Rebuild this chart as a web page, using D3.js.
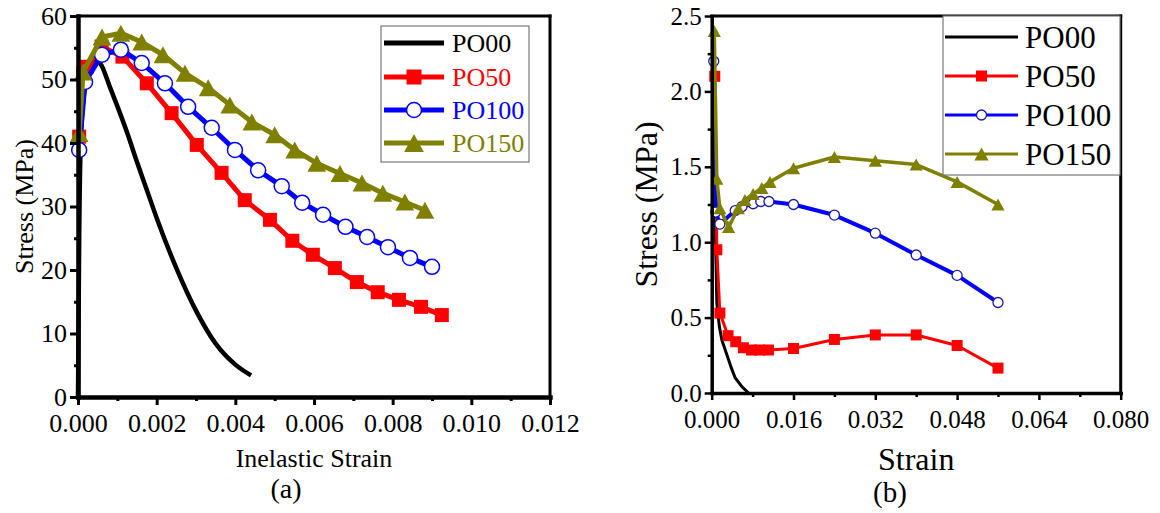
<!DOCTYPE html>
<html><head><meta charset="utf-8">
<script src="https://cdn.jsdelivr.net/npm/d3@7"></script>
<style>
body{margin:0;background:#fff}
svg text{font-family:"Liberation Serif","Times New Roman",Times,serif}
</style>
</head><body>
<svg id="c" width="1160" height="513"></svg>
<script>
// ---------- DATA ----------
const seriesNames = ["PO00", "PO50", "PO100", "PO150"];

// Panel (a): Stress vs inelastic strain
const aXTicks = [0, 0.002, 0.004, 0.006, 0.008, 0.010, 0.012];
const aXMinor = [0.001, 0.003, 0.005, 0.007, 0.009, 0.011];
const aYTicks = [0, 10, 20, 30, 40, 50, 60];
const aYMinor = [5, 15, 25, 35, 45, 55];

const aPO00x = [0, 0.00003, 0.00008, 0.00018, 0.0003, 0.00042, 0.0006, 0.0008, 0.001, 0.00125, 0.0015, 0.00175, 0.002, 0.0025, 0.003, 0.0035, 0.004, 0.0044];
const aPO00y = [0, 25, 42, 49, 52, 53.2, 52.2, 49, 45.8, 41.6, 37, 32.6, 28.2, 20.3, 13.6, 8.4, 5.1, 3.4];

const aPO50x = [0.00003, 0.00013, 0.00022, 0.0006, 0.00113, 0.00175, 0.00238, 0.00302, 0.00365, 0.00424, 0.00488, 0.00545, 0.00597, 0.00653, 0.00709, 0.00762, 0.00816, 0.00872, 0.00925];
const aPO50y = [41, 51, 52, 55.2, 53.6, 49.4, 44.7, 39.7, 35.3, 31.0, 27.9, 24.6, 22.4, 20.3, 18.1, 16.5, 15.3, 14.2, 12.9];

const aPO100x = [0.00003, 0.00018, 0.00061, 0.00109, 0.00162, 0.00221, 0.0028, 0.0034, 0.00399, 0.00458, 0.00518, 0.0057, 0.00623, 0.0068, 0.00735, 0.00788, 0.00844, 0.009];
const aPO100y = [38.9, 49.6, 53.9, 54.7, 52.6, 49.4, 45.7, 42.4, 38.9, 35.7, 33.2, 30.6, 28.7, 26.8, 25.2, 23.6, 21.9, 20.5];

const aPO150x = [0.00003, 0.00013, 0.00061, 0.00109, 0.00162, 0.00216, 0.00272, 0.00331, 0.00386, 0.00442, 0.005, 0.00551, 0.00607, 0.00666, 0.00722, 0.00775, 0.00831, 0.00882];
const aPO150y = [41.5, 51.2, 56.7, 57.3, 55.9, 53.9, 51.0, 48.7, 46.0, 43.3, 41.3, 38.9, 36.8, 35.2, 33.7, 32.1, 30.7, 29.4];

// Panel (b): Stress vs strain
const bXTicks = [0, 0.016, 0.032, 0.048, 0.064, 0.080];
const bXMinor = [0.008, 0.024, 0.040, 0.056, 0.072];
const bYTicks = [0, 0.5, 1.0, 1.5, 2.0, 2.5];
const bYMinor = [0.25, 0.75, 1.25, 1.75, 2.25];

const bPO00x = [0.0002, 0.0006, 0.001, 0.0015, 0.002, 0.0029, 0.0038, 0.0046, 0.0059, 0.0072];
const bPO00y = [2.35, 1.3, 0.6, 0.44, 0.35, 0.26, 0.17, 0.10, 0.042, 0.0];

const bPO50x = [0.0006, 0.001, 0.0016, 0.0032, 0.0047, 0.0062, 0.0078, 0.0094, 0.0111, 0.016, 0.024, 0.032, 0.040, 0.048, 0.056];
const bPO50y = [2.10, 0.95, 0.53, 0.38, 0.34, 0.30, 0.285, 0.285, 0.285, 0.295, 0.355, 0.385, 0.385, 0.315, 0.165];

const bPO100x = [0.0004, 0.0008, 0.0016, 0.0046, 0.0059, 0.0081, 0.0096, 0.0112, 0.016, 0.024, 0.032, 0.040, 0.048, 0.056];
const bPO100y = [2.20, 1.20, 1.12, 1.21, 1.235, 1.255, 1.27, 1.27, 1.25, 1.18, 1.06, 0.915, 0.78, 0.60];

const bPO150x = [0.0005, 0.001, 0.0016, 0.0033, 0.0052, 0.0065, 0.0081, 0.0098, 0.0114, 0.016, 0.024, 0.032, 0.040, 0.048, 0.056];
const bPO150y = [2.40, 1.42, 1.225, 1.10, 1.225, 1.28, 1.32, 1.36, 1.40, 1.49, 1.565, 1.54, 1.515, 1.40, 1.25];

// ---------- DRAWING ----------
const FONT = '"Liberation Serif", "Times New Roman", Times, serif';
const svg = d3.select("#c");
const zip = (xs, ys) => xs.map((v, i) => [v, ys[i]]);
const colors = ["#000000", "#ff0000", "#0000ff", "#808000"];
const markerTypes = [null, "square", "circle", "triangle"];

function marker(g, type, cx, cy, s, color, circStroke, circW) {
  if (type === "square") {
    g.append("rect").attr("x", cx - s / 2).attr("y", cy - s / 2).attr("width", s).attr("height", s).attr("fill", color);
  } else if (type === "circle") {
    g.append("circle").attr("cx", cx).attr("cy", cy).attr("r", s / 2).attr("fill", "#fff")
      .attr("stroke", circStroke).attr("stroke-width", circW);
  } else if (type === "triangle") {
    const w = s * 1.1, h = s;
    g.append("path").attr("d", `M${cx},${cy - h / 2}L${cx + w / 2},${cy + h / 2}L${cx - w / 2},${cy + h / 2}Z`).attr("fill", color);
  }
}

function txt(sel, size, color) {
  return sel.style("font-family", FONT).style("font-size", size + "px").style("fill", color || "#000");
}

function panel(o) {
  const g = svg.append("g");
  const x = d3.scaleLinear().domain(o.xDom).range([o.L, o.R]);
  const y = d3.scaleLinear().domain(o.yDom).range([o.B, o.T]);

  // series
  o.series.forEach((s, i) => {
    const line = d3.line().x(d => x(d[0])).y(d => y(d[1])).curve(i === 0 && o.smooth ? d3.curveMonotoneX : d3.curveLinear);
    g.append("path").datum(s).attr("d", line).attr("fill", "none")
      .attr("stroke", colors[i]).attr("stroke-width", o.lw[i]).attr("stroke-linejoin", "round");
    if (markerTypes[i]) {
      const mg = g.append("g");
      s.forEach(d => marker(mg, markerTypes[i], x(d[0]), y(d[1]), o.ms[i], colors[i], o.circStroke, o.circW));
    }
  });

  // frame top / right
  g.append("line").attr("x1", o.L).attr("x2", o.R).attr("y1", o.T).attr("y2", o.T).attr("stroke", "#000").attr("stroke-width", o.frameW).attr("stroke-linecap", "square");
  g.append("line").attr("x1", o.R).attr("x2", o.R).attr("y1", o.T).attr("y2", o.B).attr("stroke", "#000").attr("stroke-width", o.frameW).attr("stroke-linecap", "square");

  // axes
  const xa = g.append("g").attr("transform", `translate(0,${o.B})`)
    .call(d3.axisBottom(x).tickValues(o.xTicks).tickFormat(d3.format(o.xFmt)).tickSize(o.tick).tickSizeOuter(0).tickPadding(o.xPad));
  const xm = g.append("g").attr("transform", `translate(0,${o.B})`)
    .call(d3.axisBottom(x).tickValues(o.xMinor).tickFormat("").tickSize(o.minor).tickSizeOuter(0));
  const ya = g.append("g").attr("transform", `translate(${o.L},0)`)
    .call(d3.axisLeft(y).tickValues(o.yTicks).tickFormat(d3.format(o.yFmt)).tickSize(o.tick).tickSizeOuter(0).tickPadding(o.yPad));
  const ym = g.append("g").attr("transform", `translate(${o.L},0)`)
    .call(d3.axisLeft(y).tickValues(o.yMinor).tickFormat("").tickSize(o.minor).tickSizeOuter(0));
  [xm, ym].forEach(a => a.select(".domain").remove());
  [xa, ya, xm, ym].forEach(a => {
    a.attr("font-family", null);
    a.selectAll(".domain").attr("stroke-width", o.axisW).attr("stroke-linecap", "square");
    a.selectAll(".tick line").attr("stroke-width", o.tickW);
    txt(a.selectAll("text"), o.tickFont);
  });

  // titles
  txt(g.append("text").attr("x", (o.L + o.R) / 2).attr("y", o.xTitleY).attr("text-anchor", "middle"), o.titleFont).text(o.xTitle);
  txt(g.append("text").attr("transform", `translate(${o.yTitleX},${(o.T + o.B) / 2}) rotate(-90)`).attr("text-anchor", "middle"), o.titleFont).text("Stress (MPa)");
  txt(g.append("text").attr("x", o.capX).attr("y", o.capY).attr("text-anchor", "middle"), o.capFont).text(o.cap);

  // legend
  const lg = g.append("g");
  lg.append("rect").attr("x", o.leg.x).attr("y", o.leg.y).attr("width", o.leg.w).attr("height", o.leg.h)
    .attr("fill", "#fff").attr("stroke", "#777").attr("stroke-width", 1.2);
  seriesNames.forEach((n, i) => {
    const ry = o.leg.rows[i];
    lg.append("line").attr("x1", o.leg.lx0).attr("x2", o.leg.lx1).attr("y1", ry).attr("y2", ry)
      .attr("stroke", colors[i]).attr("stroke-width", o.leg.lw);
    if (markerTypes[i]) marker(lg, markerTypes[i], (o.leg.lx0 + o.leg.lx1) / 2, ry, o.leg.ms[i], colors[i], o.circStroke, o.circW);
    txt(lg.append("text").attr("x", o.leg.tx).attr("y", ry).attr("dy", "0.35em"), o.leg.font, o.leg.colored ? colors[i] : "#000").text(n);
  });
}

panel({
  L: 78, R: 550, T: 16, B: 397,
  xDom: [0, 0.012], yDom: [0, 60],
  xTicks: aXTicks, xMinor: aXMinor, yTicks: aYTicks, yMinor: aYMinor,
  xFmt: ".3f", yFmt: "d",
  series: [zip(aPO00x, aPO00y), zip(aPO50x, aPO50y), zip(aPO100x, aPO100y), zip(aPO150x, aPO150y)],
  smooth: true,
  lw: [4.5, 5, 5, 5], ms: [0, 14, 15, 17], circStroke: "#0000ff", circW: 1.5,
  frameW: 3, axisW: 4.5, tickW: 3, tick: 8, minor: 4, xPad: 9, yPad: 3,
  tickFont: 26, titleFont: 26, xTitle: "Inelastic Strain", xTitleY: 467, yTitleX: 33,
  cap: "(a)", capX: 286, capY: 498, capFont: 28,
  leg: { x: 381, y: 26, w: 148, h: 136, rows: [43, 77, 110, 143], lx0: 384, lx1: 444, lw: 5, ms: [0, 15, 15, 18], tx: 452, font: 26, colored: true }
});

panel({
  L: 711.7, R: 1120.7, T: 16, B: 393,
  xDom: [0, 0.08], yDom: [0, 2.5],
  xTicks: bXTicks, xMinor: bXMinor, yTicks: bYTicks, yMinor: bYMinor,
  xFmt: ".3f", yFmt: ".1f",
  series: [zip(bPO00x, bPO00y), zip(bPO50x, bPO50y), zip(bPO100x, bPO100y), zip(bPO150x, bPO150y)],
  smooth: false,
  lw: [3, 3, 4, 3.5], ms: [0, 11, 10, 12], circStroke: "#1a1aa6", circW: 1.3,
  frameW: 3, axisW: 3.5, tickW: 2.5, tick: 7, minor: 4, xPad: 10, yPad: 3,
  tickFont: 25, titleFont: 32, xTitle: "Strain", xTitleY: 470, yTitleX: 657,
  cap: "(b)", capX: 890, capY: 502, capFont: 29,
  leg: { x: 943, y: 16, w: 177, h: 159, rows: [37, 76, 115, 154], lx0: 945, lx1: 1018, lw: 3, ms: [0, 11, 10, 13], tx: 1025, font: 31, colored: false }
});
</script>
</body></html>
